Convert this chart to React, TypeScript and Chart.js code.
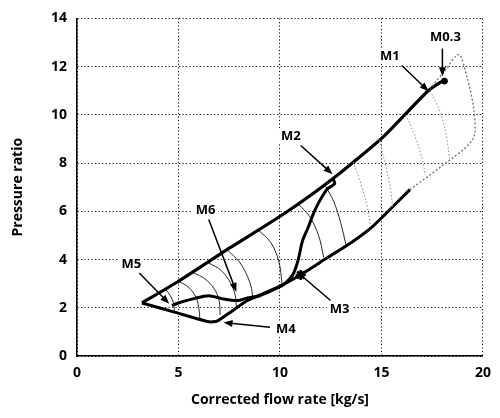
import React, { useEffect, useRef } from "react";
import { Chart, registerables } from "chart.js";

Chart.register(...registerables);

// Axis ticks
const xTickValues = [0, 5, 10, 15, 20];
const yTickValues = [0, 2, 4, 6, 8, 10, 12, 14];

// Surge line (thick, upper boundary)
const surgeX = [3.2, 5.0, 7.5, 10.2, 12.6, 15.1, 17.3, 18.1];
const surgeY = [2.2, 3.1, 4.47, 5.9, 7.35, 9.1, 11.0, 11.45];

// Lower boundary (thick)
const lowerX = [3.2, 4.8, 6.5, 6.9, 7.7, 8.4, 10.0, 11.0, 12.3, 13.5, 14.6, 16.4];
const lowerY = [2.2, 1.82, 1.42, 1.45, 1.9, 2.3, 2.9, 3.36, 4.06, 4.7, 5.4, 6.9];

// Maximum speed line (grey dotted)
const maxSpeedX = [16.4, 18.0, 19.5, 19.55, 19.2, 18.8, 18.1, 17.4];
const maxSpeedY = [6.9, 7.9, 9.0, 10.2, 11.6, 12.5, 11.8, 11.1];

// Operating path (thick): M2 -> M3 -> M4 -> M6 -> M5
const opX = [12.6, 12.7, 12.3, 11.75, 11.37, 11.1, 10.9, 10.65, 10.24, 9.9, 9.0, 8.44, 7.95, 7.12, 6.49, 5.76, 5.02, 4.68];
const opY = [7.35, 7.15, 6.9, 6.1, 5.3, 4.75, 4.0, 3.4, 3.0, 2.83, 2.5, 2.42, 2.3, 2.38, 2.5, 2.38, 2.21, 2.09];

// Constant-speed lines (thin black)
const s1X = [4.35, 4.6, 4.75, 4.8];
const s1Y = [2.78, 2.5, 2.2, 1.85];
const s2X = [5.0, 5.5, 5.85, 6.0, 6.05];
const s2Y = [3.1, 2.85, 2.45, 2.0, 1.55];
const s3X = [5.75, 6.3, 6.75, 7.0, 7.05];
const s3Y = [3.45, 3.2, 2.8, 2.3, 1.7];
const s4X = [6.5, 7.1, 7.55, 7.8, 7.85];
const s4Y = [3.85, 3.55, 3.05, 2.5, 2.05];
const s5X = [7.4, 8.0, 8.4, 8.6, 8.65];
const s5Y = [4.4, 3.9, 3.3, 2.8, 2.45];
const s6X = [8.9, 9.55, 9.95, 10.1];
const s6Y = [5.25, 4.7, 3.9, 3.0];
const s7X = [10.9, 11.45, 11.9, 12.15];
const s7Y = [6.3, 5.8, 5.0, 4.1];
const s8X = [12.2, 12.65, 13.0, 13.25];
const s8Y = [7.1, 6.4, 5.5, 4.6];

// Constant-speed lines (grey dotted, high flow)
const g1X = [13.6, 14.0, 14.3, 14.45];
const g1Y = [8.05, 7.1, 6.2, 5.45];
const g2X = [14.9, 15.2, 15.45, 15.55];
const g2Y = [8.95, 7.9, 6.9, 6.1];
const g3X = [16.2, 16.7, 17.05, 17.15];
const g3Y = [10.0, 9.0, 8.0, 7.5];
const g4X = [17.4, 17.9, 18.2, 18.35];
const g4Y = [11.0, 10.1, 9.1, 8.2];

// Markers
const markM3X = [11.02];
const markM3Y = [3.36];
const markM03X = [18.1];
const markM03Y = [11.4];

// Annotations (data units)
const annLabels = ["M0.3", "M1", "M2", "M3", "M4", "M5", "M6"];
const annLabelX = [18.15, 15.41, 10.54, 12.93, 10.29, 2.68, 6.34];
const annLabelY = [13.24, 12.46, 9.14, 1.97, 1.15, 3.85, 6.1];
const annFromX = [18.0, 16.0, 11.02, 12.49, 9.51, 3.07, 6.49];
const annFromY = [12.75, 12.05, 8.73, 2.3, 1.19, 3.44, 5.66];
const annToX = [18.0, 17.32, 12.59, 11.02, 7.22, 4.54, 7.85];
const annToY = [11.6, 10.98, 7.54, 3.36, 1.39, 2.17, 2.66];
const annHead = [true, true, true, false, true, true, true];

const FONT = '"Open Sans", "DejaVu Sans", sans-serif';

const pts = (xs: number[], ys: number[]) => xs.map((x, i) => ({ x, y: ys[i] }));

const annotationPlugin = {
  id: "annotations",
  afterDatasetsDraw(chart: any) {
    const { ctx, scales } = chart;
    const sx = scales.x;
    const sy = scales.y;
    ctx.save();
    ctx.font = `bold 13px ${FONT}`;
    ctx.textAlign = "center";
    ctx.textBaseline = "middle";
    annLabels.forEach((t, i) => {
      const fx = sx.getPixelForValue(annFromX[i]);
      const fy = sy.getPixelForValue(annFromY[i]);
      const tx = sx.getPixelForValue(annToX[i]);
      const ty = sy.getPixelForValue(annToY[i]);
      ctx.strokeStyle = "#000";
      ctx.fillStyle = "#000";
      ctx.lineWidth = 1.5;
      const ang = Math.atan2(ty - fy, tx - fx);
      const hl = annHead[i] ? 9 : 0;
      ctx.beginPath();
      ctx.moveTo(fx, fy);
      ctx.lineTo(tx - Math.cos(ang) * hl * 0.8, ty - Math.sin(ang) * hl * 0.8);
      ctx.stroke();
      if (annHead[i]) {
        const hw = 3.5;
        const bx = tx - Math.cos(ang) * hl;
        const by = ty - Math.sin(ang) * hl;
        ctx.beginPath();
        ctx.moveTo(tx, ty);
        ctx.lineTo(bx + Math.sin(ang) * hw, by - Math.cos(ang) * hw);
        ctx.lineTo(bx - Math.sin(ang) * hw, by + Math.cos(ang) * hw);
        ctx.closePath();
        ctx.fill();
      }
      const lx = sx.getPixelForValue(annLabelX[i]);
      const ly = sy.getPixelForValue(annLabelY[i]);
      const w = ctx.measureText(t).width;
      ctx.fillStyle = "#fff";
      ctx.fillRect(lx - w / 2 - 3, ly - 7, w + 6, 14);
      ctx.fillStyle = "#000";
      ctx.fillText(t, lx, ly + 1);
    });
    ctx.restore();
  },
};

export default function App() {
  const ref = useRef<HTMLCanvasElement | null>(null);

  useEffect(() => {
    if (!ref.current) return;
    const thin = (xs: number[], ys: number[]) => ({
      data: pts(xs, ys),
      showLine: true,
      borderColor: "#111",
      borderWidth: 0.9,
      pointRadius: 0,
      tension: 0.35,
    });
    const grey = (xs: number[], ys: number[]) => ({
      data: pts(xs, ys),
      showLine: true,
      borderColor: "#8a8a8a",
      borderWidth: 1,
      borderDash: [1.5, 2],
      pointRadius: 0,
      tension: 0.35,
    });
    const chart = new Chart(ref.current, {
      type: "scatter",
      data: {
        datasets: [
          thin(s1X, s1Y),
          thin(s2X, s2Y),
          thin(s3X, s3Y),
          thin(s4X, s4Y),
          thin(s5X, s5Y),
          thin(s6X, s6Y),
          thin(s7X, s7Y),
          thin(s8X, s8Y),
          grey(g1X, g1Y),
          grey(g2X, g2Y),
          grey(g3X, g3Y),
          grey(g4X, g4Y),
          {
            data: pts(maxSpeedX, maxSpeedY),
            showLine: true,
            borderColor: "#777",
            borderWidth: 1.4,
            borderDash: [2, 2],
            pointRadius: 0,
            tension: 0.3,
          },
          {
            data: pts(lowerX, lowerY),
            showLine: true,
            borderColor: "#000",
            borderWidth: 3,
            pointRadius: 0,
            tension: 0.2,
          },
          {
            data: pts(surgeX, surgeY),
            showLine: true,
            borderColor: "#000",
            borderWidth: 3.2,
            pointRadius: 0,
            tension: 0.2,
          },
          {
            data: pts(opX, opY),
            showLine: true,
            borderColor: "#000",
            borderWidth: 3,
            pointRadius: 0,
            tension: 0.3,
          },
          {
            data: pts(markM3X, markM3Y),
            pointStyle: "star",
            pointRadius: 5,
            borderColor: "#000",
            borderWidth: 2.5,
            backgroundColor: "#000",
          },
          {
            data: pts(markM03X, markM03Y),
            pointStyle: "circle",
            pointRadius: 3,
            borderColor: "#000",
            backgroundColor: "#000",
          },
        ],
      },
      options: {
        animation: false,
        responsive: false,
        layout: { padding: { top: 14, right: 13, left: 0, bottom: 0 } },
        plugins: {
          legend: { display: false },
          tooltip: { enabled: false },
        },
        scales: {
          x: {
            type: "linear",
            min: 0,
            max: 20,
            afterFit: (s: any) => {
              s.height = 62;
            },
            afterBuildTicks: (s: any) => {
              s.ticks = xTickValues.map((v) => ({ value: v }));
            },
            ticks: {
              color: "#000",
              padding: 9,
              font: { family: FONT, size: 14, weight: "bold" },
            },
            grid: { color: "#111", lineWidth: 1, drawTicks: false },
            border: { display: true, color: "#000", width: 1.5, dash: [1.2, 2.3] },
            title: {
              display: true,
              text: "Corrected flow rate [kg/s]",
              color: "#000",
              font: { family: FONT, size: 14, weight: "bold" },
              padding: { top: 0, bottom: 10 },
            },
          },
          y: {
            type: "linear",
            min: 0,
            max: 14,
            afterFit: (s: any) => {
              s.width = 77;
            },
            afterBuildTicks: (s: any) => {
              s.ticks = yTickValues.map((v) => ({ value: v }));
            },
            ticks: {
              color: "#000",
              padding: 10,
              font: { family: FONT, size: 14, weight: "bold" },
            },
            grid: { color: "#111", lineWidth: 1, drawTicks: false },
            border: { display: true, color: "#000", width: 1.5, dash: [1.2, 2.3] },
            title: {
              display: true,
              text: "Pressure ratio",
              color: "#000",
              font: { family: FONT, size: 14, weight: "bold" },
              padding: { top: 10, bottom: 0 },
            },
          },
        },
      },
      plugins: [annotationPlugin],
    });
    return () => chart.destroy();
  }, []);

  return (
    <div style={{ position: "absolute", left: 0, top: 0, width: 500, height: 418, background: "#fff" }}>
      <canvas ref={ref} width={500} height={418} style={{ display: "block" }} />
    </div>
  );
}
